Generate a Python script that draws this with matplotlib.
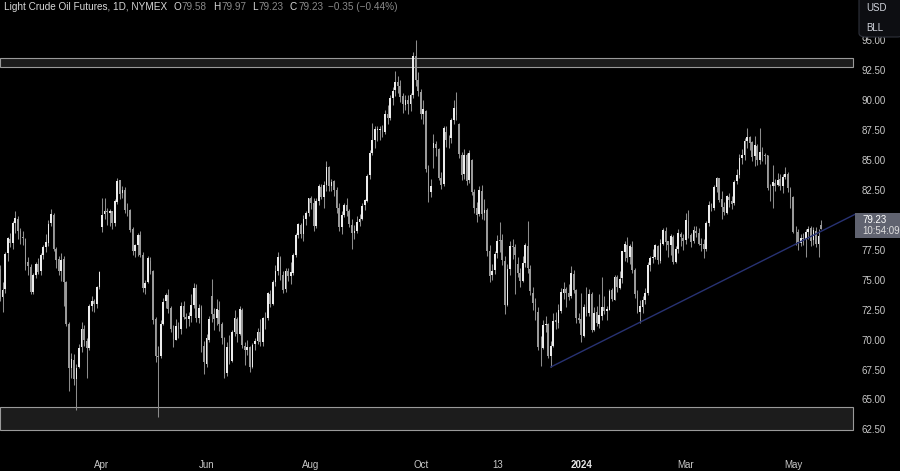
import numpy as np
import pandas as pd
import matplotlib
matplotlib.use("Agg")
import matplotlib.pyplot as plt
from matplotlib.patches import Rectangle, FancyBboxPatch

plt.rcParams['font.family'] = ['Liberation Sans', 'DejaVu Sans']

# NYMEX closed days in the window
holidays = ["2023-02-20", "2023-04-07", "2023-05-29", "2023-06-19", "2023-07-04",
            "2023-09-04", "2023-11-23", "2023-12-25", "2024-01-01", "2024-01-15",
            "2024-02-19", "2024-03-29"]

# daily OHLC, Feb 2023 .. May 2024 (one line per month)
opens = [
    78.90, 76.50, 75.90, 73.55, 74.20, 77.20, 78.40, 78.10, 79.70, 80.10, 79.10, 78.60, 78.40, 76.50, 76.10, 73.95, 75.40, 76.30, 75.70,
    77.10, 77.70, 78.10, 79.70, 80.40, 77.60, 76.70, 75.70, 76.70, 74.80, 71.30, 67.60, 68.30, 66.70, 67.70, 69.40, 70.90, 69.90, 69.30, 72.80, 73.20, 73.00, 74.40,
    79.40, 80.50, 80.70, 80.60, 80.70, 79.70, 81.50, 83.30, 82.20, 82.50, 80.80, 80.80, 79.20, 77.40, 77.90, 78.70, 77.10, 74.30, 74.80,
    76.60, 75.70, 71.70, 68.60, 68.60, 71.30, 73.20, 73.70, 72.60, 70.90, 70.00, 71.10, 70.90, 72.80, 71.90, 71.70, 72.00, 72.90, 74.30, 71.80, 72.70, 69.50,
    68.00, 70.00, 73.60, 72.10, 71.80, 72.50, 71.30, 70.10, 67.20, 69.40, 68.20, 70.60, 71.70, 70.50, 72.50, 69.50, 69.10, 69.40, 67.70, 69.60, 69.90,
    70.60, 69.80, 71.80, 71.80, 73.80, 73.00, 74.80, 75.70, 76.80, 75.40, 74.20, 75.70, 75.30, 75.60, 77.10, 78.70, 79.60, 78.80, 80.10, 80.60,
    81.80, 81.40, 79.50, 81.60, 82.70, 81.90, 82.90, 84.40, 82.80, 83.20, 82.50, 81.00, 79.40, 80.40, 81.20, 80.70, 79.60, 78.90, 79.10, 79.80, 80.10, 81.20, 81.60,
    83.70, 85.60, 86.70, 87.50, 87.50, 87.50, 87.30, 88.80, 88.50, 90.20, 90.80, 91.50, 91.20, 90.30, 89.60, 90.00, 89.70, 90.40, 93.70, 91.70,
    90.70, 88.80, 89.10, 84.20, 82.30, 86.00, 86.30, 85.90, 83.50, 83.00, 87.30, 86.70, 86.80, 88.30, 89.40, 88.00, 85.40, 83.80, 85.40, 83.30, 85.00, 82.30,
    81.00, 80.50, 82.40, 80.60, 80.80, 77.40, 75.40, 75.80, 77.20, 78.30, 78.30, 76.60, 72.90, 75.90, 77.80, 77.70, 76.30, 75.60, 74.90, 76.40, 77.80,
    75.90, 73.90, 73.00, 72.30, 69.40, 69.30, 71.20, 71.30, 68.60, 69.50, 71.60, 71.40, 72.40, 73.90, 74.20, 73.90, 73.60, 75.50, 74.10, 71.80,
    71.70, 70.30, 72.70, 72.20, 73.80, 70.80, 72.30, 71.30, 72.00, 72.70, 72.40, 72.50, 74.10, 73.30, 75.20, 74.30, 75.10, 77.30, 77.90, 76.90, 77.70,
    75.80, 73.80, 72.30, 72.70, 73.30, 73.90, 76.20, 76.80, 76.90, 77.80, 76.60, 78.00, 79.10, 78.20, 77.90, 78.60, 76.50, 77.60, 78.80, 78.50,
    78.30, 79.90, 78.70, 78.20, 79.10, 78.90, 78.00, 78.00, 77.60, 79.70, 81.30, 81.00, 82.70, 83.50, 81.70, 81.10, 80.60, 81.90, 81.60, 81.40,
    83.20, 83.70, 85.20, 85.40, 86.60, 86.90, 86.50, 85.30, 86.20, 85.00, 85.70, 85.40, 85.40, 82.70, 82.80, 83.10, 82.90, 83.40, 82.80, 83.60, 83.80, 82.60,
    81.90, 79.00, 79.00, 78.10, 78.50, 78.40, 79.00, 79.30, 78.30, 79.10, 78.00, 79.58,
]
highs = [
    79.10, 76.90, 76.20, 74.80, 77.30, 78.60, 78.90, 79.90, 80.70, 80.30, 79.30, 79.10, 78.50, 76.90, 76.30, 75.60, 76.50, 76.80, 77.20,
    77.90, 78.80, 80.00, 80.90, 80.60, 77.70, 77.00, 77.20, 77.00, 74.90, 71.50, 68.90, 68.80, 68.00, 69.60, 71.50, 71.20, 70.10, 73.00, 73.60, 73.40, 74.50, 75.70,
    81.80, 81.80, 81.00, 80.90, 80.70, 81.70, 83.53, 83.30, 82.80, 82.70, 81.40, 80.90, 79.40, 78.00, 78.90, 79.10, 77.30, 75.00, 77.00,
    76.90, 75.80, 71.90, 69.50, 71.60, 73.50, 73.90, 74.20, 72.80, 71.20, 71.70, 71.50, 73.10, 73.20, 72.20, 72.30, 73.80, 74.70, 74.60, 73.00, 72.90, 69.90,
    70.50, 72.00, 75.06, 72.60, 73.40, 73.20, 71.50, 70.20, 69.80, 70.40, 70.80, 72.50, 71.90, 72.80, 72.60, 69.80, 70.00, 69.50, 69.70, 70.10, 71.00,
    71.70, 71.90, 72.30, 74.00, 74.10, 75.00, 76.20, 77.30, 77.00, 75.70, 76.00, 76.00, 76.50, 77.20, 78.90, 79.70, 79.70, 80.40, 80.70, 81.80,
    82.00, 81.80, 81.80, 83.00, 83.00, 83.20, 84.89, 84.50, 83.40, 83.30, 82.70, 81.40, 80.70, 81.40, 81.80, 80.90, 80.10, 79.60, 80.30, 80.50, 81.40, 81.70, 83.80,
    85.80, 88.08, 87.80, 87.80, 87.80, 87.90, 89.20, 89.60, 90.40, 91.10, 92.40, 92.00, 91.70, 90.60, 90.40, 90.40, 90.60, 94.00, 95.03, 92.30,
    90.90, 90.00, 89.20, 84.60, 83.40, 87.20, 86.60, 86.00, 84.00, 87.80, 87.80, 87.10, 88.50, 90.00, 90.70, 88.10, 85.70, 85.90, 85.60, 85.80, 85.10, 82.60,
    81.50, 82.80, 82.90, 81.70, 81.00, 77.90, 76.30, 77.40, 78.70, 79.80, 78.80, 77.00, 76.30, 78.20, 78.40, 78.00, 76.90, 76.00, 77.00, 78.10, 79.90,
    76.20, 74.40, 73.50, 72.70, 70.30, 71.60, 72.00, 71.40, 69.90, 72.20, 72.30, 73.00, 74.30, 74.80, 74.40, 74.60, 76.18, 75.80, 74.20, 72.20,
    73.90, 73.00, 74.40, 74.20, 74.00, 72.70, 72.80, 73.80, 75.20, 73.60, 72.80, 74.20, 74.30, 75.40, 75.40, 75.70, 77.40, 78.20, 78.60, 78.00, 78.20,
    76.00, 74.10, 73.30, 73.60, 74.30, 76.50, 77.00, 77.60, 78.00, 77.90, 78.40, 79.30, 79.40, 78.20, 78.80, 78.70, 77.80, 79.20, 79.00, 78.80,
    80.60, 80.80, 78.90, 79.50, 79.50, 79.30, 78.50, 78.40, 79.90, 81.60, 81.40, 82.90, 83.60, 83.50, 82.40, 81.50, 82.10, 82.20, 82.00, 83.30,
    84.20, 85.50, 85.90, 86.80, 87.63, 87.00, 86.60, 87.00, 86.30, 87.67, 86.10, 85.60, 85.40, 83.00, 84.60, 83.40, 83.90, 83.80, 83.80, 84.40, 84.00, 82.70,
    82.00, 79.50, 79.20, 78.80, 78.90, 79.20, 79.50, 79.50, 79.40, 79.40, 79.20, 79.97,
]
lows = [
    75.80, 75.10, 73.20, 72.30, 73.90, 76.60, 77.70, 77.60, 78.90, 78.40, 78.00, 77.90, 75.80, 75.40, 73.80, 73.80, 75.10, 75.50, 75.40,
    76.70, 77.30, 77.80, 79.50, 77.40, 76.00, 75.40, 74.90, 72.80, 71.10, 65.70, 66.80, 66.20, 64.12, 67.60, 69.00, 69.50, 66.80, 69.10, 72.40, 72.30, 72.60, 74.20,
    79.00, 80.10, 79.60, 79.50, 79.20, 79.50, 81.30, 81.70, 81.80, 80.60, 80.30, 79.00, 77.10, 76.90, 77.00, 76.90, 74.00, 73.80, 74.70,
    75.50, 71.30, 68.10, 63.57, 68.50, 71.20, 72.60, 72.20, 70.60, 69.40, 70.00, 70.10, 70.50, 71.70, 71.00, 71.10, 71.50, 72.60, 71.50, 71.40, 69.00, 67.10,
    67.70, 69.80, 71.50, 70.80, 71.20, 70.70, 69.60, 66.80, 67.00, 68.00, 68.10, 70.30, 69.80, 70.40, 69.30, 67.90, 68.70, 67.30, 67.60, 69.10, 69.60,
    69.50, 69.50, 70.90, 71.60, 72.70, 72.90, 74.50, 75.40, 75.00, 73.90, 74.00, 74.90, 74.60, 75.40, 76.90, 78.50, 78.50, 78.20, 79.60, 80.30,
    80.90, 79.10, 79.30, 81.20, 81.70, 81.00, 82.40, 82.40, 82.40, 82.00, 80.60, 79.10, 78.80, 80.20, 80.30, 79.40, 77.60, 78.40, 78.90, 79.50, 80.00, 80.80, 81.50,
    83.40, 85.40, 86.00, 86.60, 86.70, 86.90, 87.20, 88.00, 88.30, 89.60, 90.30, 90.60, 89.80, 88.90, 89.20, 88.80, 89.10, 90.20, 91.20, 90.30,
    88.40, 88.00, 84.00, 81.50, 81.90, 84.30, 85.30, 83.30, 82.60, 82.80, 86.10, 86.00, 86.40, 88.00, 88.30, 85.20, 83.30, 83.40, 82.90, 83.10, 82.10, 80.60,
    79.80, 80.30, 80.10, 80.00, 77.00, 74.80, 75.00, 75.50, 76.80, 77.30, 76.20, 72.17, 72.80, 75.40, 76.70, 73.80, 75.20, 74.40, 74.80, 76.10, 75.60,
    73.70, 72.50, 71.60, 69.10, 67.80, 69.20, 70.60, 68.50, 67.71, 69.40, 70.90, 71.00, 72.20, 73.40, 72.70, 73.30, 73.50, 73.90, 71.40, 71.40,
    69.80, 70.20, 72.00, 72.00, 70.60, 70.70, 71.10, 71.00, 71.60, 72.10, 71.60, 72.50, 73.20, 73.30, 74.00, 74.20, 74.70, 76.60, 76.50, 76.30, 75.60,
    73.50, 72.20, 71.41, 72.20, 73.00, 73.70, 75.70, 76.40, 76.70, 76.30, 76.40, 77.90, 77.50, 76.90, 77.10, 76.30, 76.40, 77.20, 77.80, 77.50,
    78.00, 78.50, 77.70, 78.10, 78.60, 77.90, 77.40, 76.80, 77.40, 79.50, 80.70, 80.80, 82.30, 81.50, 80.10, 80.40, 80.50, 81.10, 80.90, 81.20,
    83.00, 83.50, 84.70, 85.00, 86.00, 85.80, 84.90, 84.50, 84.60, 84.70, 84.90, 84.70, 82.50, 81.60, 81.00, 82.40, 82.80, 82.50, 82.20, 83.40, 82.30, 81.00,
    78.90, 77.90, 77.50, 77.80, 77.90, 76.90, 78.40, 77.80, 77.90, 77.70, 76.90, 79.23,
]
closes = [
    76.41, 75.88, 73.39, 74.11, 77.14, 78.47, 78.06, 79.72, 80.14, 79.06, 78.59, 78.49, 76.34, 76.16, 73.95, 75.39, 76.32, 75.68, 77.05,
    77.69, 78.16, 79.68, 80.46, 77.58, 76.66, 75.72, 76.68, 74.80, 71.33, 67.61, 68.35, 66.74, 67.64, 69.33, 70.90, 69.96, 69.26, 72.81, 73.20, 72.97, 74.37, 75.67,
    80.42, 80.71, 80.61, 80.70, 79.74, 81.53, 83.26, 82.16, 82.52, 80.83, 80.86, 79.16, 77.37, 77.87, 78.76, 77.07, 74.30, 74.76, 76.78,
    75.66, 71.66, 68.60, 68.56, 71.34, 73.16, 73.71, 72.56, 70.87, 70.04, 71.11, 70.86, 72.83, 71.86, 71.69, 71.99, 72.91, 74.34, 71.83, 72.67, 69.46, 68.09,
    70.10, 71.74, 72.15, 71.74, 72.53, 71.29, 70.17, 67.12, 69.42, 68.27, 70.62, 71.78, 70.50, 72.53, 69.51, 69.16, 69.37, 67.70, 69.56, 69.86, 70.64,
    69.79, 71.79, 71.80, 73.86, 72.99, 74.83, 75.75, 76.89, 75.42, 74.15, 75.75, 75.35, 75.63, 77.07, 78.74, 79.63, 78.78, 80.09, 80.58, 81.80,
    81.37, 79.49, 81.55, 82.82, 81.94, 82.92, 84.40, 82.82, 83.19, 82.51, 80.99, 79.38, 80.39, 81.25, 80.72, 79.64, 78.89, 79.05, 79.83, 80.10, 81.16, 81.63, 83.63,
    85.55, 86.69, 87.54, 87.51, 87.51, 87.29, 88.84, 88.52, 90.16, 90.77, 91.48, 91.20, 90.28, 89.63, 90.03, 89.68, 90.39, 93.68, 91.71, 90.79,
    88.82, 89.23, 84.22, 82.31, 82.79, 86.38, 85.97, 83.49, 82.91, 87.69, 86.66, 86.66, 88.32, 89.37, 88.75, 85.49, 83.74, 85.39, 83.21, 85.54, 82.31, 81.02,
    80.44, 82.46, 80.51, 80.82, 77.37, 75.33, 75.74, 77.17, 78.26, 78.26, 76.66, 72.90, 75.89, 77.83, 77.77, 77.10, 75.54, 74.86, 76.41, 77.86, 75.96,
    74.07, 73.04, 72.32, 69.38, 69.34, 71.23, 71.32, 68.61, 69.47, 71.58, 71.43, 72.47, 73.94, 74.22, 73.89, 73.56, 75.57, 74.11, 71.77, 71.65,
    70.38, 72.70, 72.19, 73.81, 70.77, 72.24, 71.37, 72.02, 72.68, 72.40, 72.56, 74.08, 73.41, 75.19, 74.37, 75.09, 77.36, 78.01, 76.78, 77.82, 75.85,
    73.82, 72.28, 72.78, 73.31, 73.86, 76.22, 76.84, 76.92, 77.87, 76.64, 78.03, 79.19, 78.18, 77.91, 78.61, 76.49, 77.58, 78.87, 78.54, 78.26,
    79.97, 78.74, 78.15, 79.13, 78.93, 78.01, 77.93, 77.56, 79.72, 81.26, 81.04, 82.72, 83.47, 81.68, 81.07, 80.63, 81.95, 81.62, 81.35, 83.17,
    83.71, 85.15, 85.43, 86.59, 86.91, 86.43, 85.23, 86.21, 85.02, 85.66, 85.41, 85.36, 82.69, 82.73, 83.14, 82.85, 83.36, 82.81, 83.57, 83.85, 82.63, 81.93,
    79.00, 78.95, 78.11, 78.48, 78.38, 78.99, 79.26, 78.26, 79.12, 78.02, 78.63, 79.23,
]

# drawn levels
resistance_zone = (92.75, 93.50)
support_zone = (62.42, 64.37)
trend_anchors = [("2023-12-13", 67.71), ("2024-02-05", 71.45)]

tick_dates = ["2023-04-03", "2023-06-01", "2023-08-01", "2023-10-02",
              "2023-11-13", "2024-01-02", "2024-03-01", "2024-05-01"]
tick_labels = ["Apr", "Jun", "Aug", "Oct", "13", "2024", "Mar", "May"]
y_ticks = [62.5, 65.0, 67.5, 70.0, 72.5, 75.0, 77.5, 80.0, 82.5, 85.0, 87.5, 90.0, 92.5, 95.0]

days = pd.bdate_range("2023-02-01", "2024-05-16")
days = days[~days.isin(pd.to_datetime(holidays))]
o = np.array(opens); h = np.array(highs); l = np.array(lows); c = np.array(closes)
assert len(o) == len(h) == len(l) == len(c) == len(days), (len(o), len(h), len(l), len(c), len(days))
x = np.arange(len(c))

W, H = 900, 471
fig = plt.figure(figsize=(W / 100, H / 100), dpi=100)
fig.patch.set_facecolor("black")
ax = fig.add_axes([0, 26 / H, 855 / W, 445 / H])
ax.set_facecolor("black")

i_apr = days.get_loc(pd.Timestamp("2023-04-03"))
x0, x1 = i_apr - 40.0, i_apr + 295.3
ax.set_xlim(x0, x1)
ax.set_ylim(61.2, 98.35)

up = c >= o
body_col = np.where(up, "#ececec", "#9a9a9a")
ax.vlines(x, l, h, color="#8c8c8c", lw=0.75, zorder=2)
ax.bar(x, np.maximum(np.abs(c - o), 0.04), bottom=np.minimum(o, c), width=0.7,
       color=body_col, linewidth=0, zorder=3)

# zones
tr = ax.get_yaxis_transform()
for lo, hi in [resistance_zone, support_zone]:
    ax.add_patch(Rectangle((0, lo), 0.998, hi - lo, transform=tr, facecolor="#1c1c1c",
                           edgecolor="#9a9a9a", lw=0.8, zorder=1))

# trend line
(d1, p1), (d2, p2) = trend_anchors
i1 = days.get_loc(pd.Timestamp(d1)); i2 = days.get_loc(pd.Timestamp(d2))
slope = (p2 - p1) / (i2 - i1)
ax.plot([i1, x1], [p1, p1 + slope * (x1 - i1)], color="#283273", lw=1.0, zorder=4)

for s in ax.spines.values():
    s.set_visible(False)

ax.yaxis.tick_right()
ax.set_yticks(y_ticks)
ax.set_yticklabels([f"{v:.2f}" for v in y_ticks])
ax.tick_params(axis="y", length=0, pad=5, labelsize=7, labelcolor="#c8c8c8")
ax.set_xticks([days.get_loc(pd.Timestamp(d)) for d in tick_dates])
ax.set_xticklabels(tick_labels)
ax.tick_params(axis="x", length=0, pad=10.5, labelsize=7, labelcolor="#c8c8c8")
for t in ax.get_xticklabels():
    if t.get_text() == "2024":
        t.set_fontweight("bold")
        t.set_color("#e6e6e6")


def px(xp, yp):
    return xp / W, 1 - yp / H


# header, laid out piece by piece
renderer = fig.canvas.get_renderer()
pieces = [("Light Crude Oil Futures, 1D, NYMEX", "#d8d8d8", 6),
          ("O", "#d8d8d8", 1), ("79.58", "#8a8a8a", 6),
          ("H", "#d8d8d8", 1), ("79.97", "#8a8a8a", 6),
          ("L", "#d8d8d8", 1), ("79.23", "#8a8a8a", 6),
          ("C", "#d8d8d8", 1), ("79.23", "#8a8a8a", 5),
          ("\u22120.35 (\u22120.44%)", "#8a8a8a", 0)]
cur = 4.0
for txt, col, gap in pieces:
    t = fig.text(*px(cur, 7), txt, color=col, fontsize=7.2, va="center")
    cur += t.get_window_extent(renderer).width + gap

# last price tag
fig.add_artist(Rectangle(px(855, 238), 45 / W, 25 / H, transform=fig.transFigure,
                         facecolor="#606370", edgecolor="none", zorder=10))
fig.text(*px(862, 220), "79.23", color="white", fontsize=7, va="center", zorder=11)
fig.text(*px(862, 231), "10:54:09", color="#e0e0e0", fontsize=7, va="center", zorder=11)

# currency / unit box
fig.add_artist(FancyBboxPatch(px(859, 37), 45 / W, 42 / H, transform=fig.transFigure,
                              boxstyle="round,pad=0,rounding_size=0.008",
                              facecolor="#0d0e12", edgecolor="#2e313b", lw=0.8, zorder=10))
fig.text(*px(866, 8), "USD", color="#d1d4dc", fontsize=7, va="center", zorder=11)
fig.text(*px(866, 28), "BLL", color="#d1d4dc", fontsize=7, va="center", zorder=11)

fig.savefig("out.png", dpi=100, facecolor="black")
